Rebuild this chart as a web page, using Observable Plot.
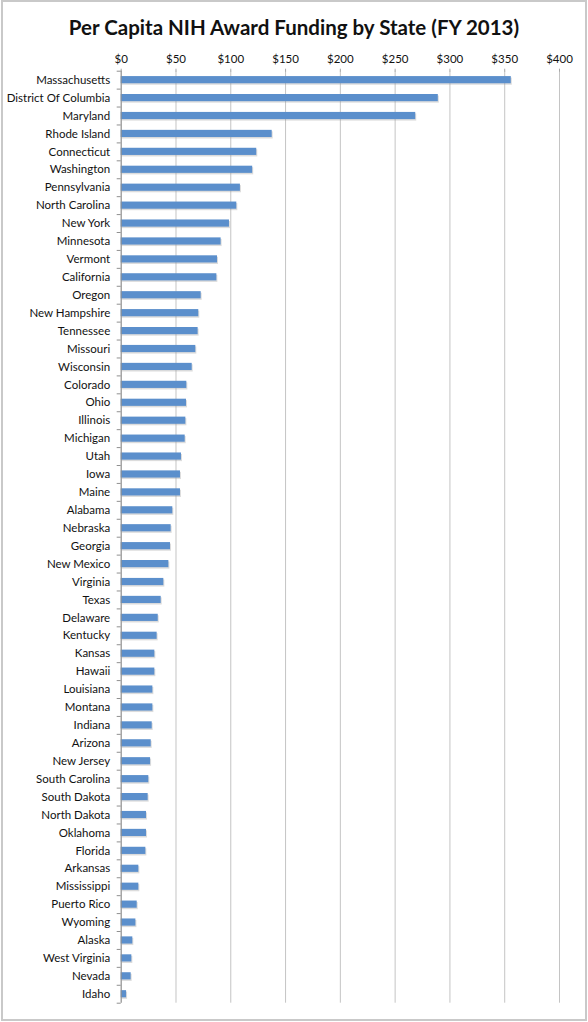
<!DOCTYPE html>
<html>
<head>
<meta charset="utf-8">
<script src="https://cdn.jsdelivr.net/npm/d3@7"></script>
<script src="https://cdn.jsdelivr.net/npm/@observablehq/plot@0.6"></script>
<style>
  html, body { margin: 0; padding: 0; background: #fff; }
  #wrap { position: relative; width: 588px; height: 1022px; overflow: hidden; font-family: Lato, "Open Sans", sans-serif; }
  #frame { position: absolute; left: 1px; top: 0px; border: 2px solid #c9c9c9; box-sizing: border-box; width: 586px; height: 1021px; pointer-events: none; }
  #title { position: absolute; left: 0; top: 15px; width: 588px; text-align: center; font-size: 20.5px; line-height: 24px; font-weight: 700; color: #111; }
  #chart { position: absolute; left: 0; top: 0; }
</style>
</head>
<body>
<div id="wrap">
  <div id="chart"></div>
  <div id="title">Per Capita NIH Award Funding by State (FY 2013)</div>
  <div id="frame"></div>
</div>
<script>
const states = [
  "Massachusetts", "District Of Columbia", "Maryland", "Rhode Island", "Connecticut",
  "Washington", "Pennsylvania", "North Carolina", "New York", "Minnesota",
  "Vermont", "California", "Oregon", "New Hampshire", "Tennessee",
  "Missouri", "Wisconsin", "Colorado", "Ohio", "Illinois",
  "Michigan", "Utah", "Iowa", "Maine", "Alabama",
  "Nebraska", "Georgia", "New Mexico", "Virginia", "Texas",
  "Delaware", "Kentucky", "Kansas", "Hawaii", "Louisiana",
  "Montana", "Indiana", "Arizona", "New Jersey", "South Carolina",
  "South Dakota", "North Dakota", "Oklahoma", "Florida", "Arkansas",
  "Mississippi", "Puerto Rico", "Wyoming", "Alaska", "West Virginia",
  "Nevada", "Idaho"
];
const funding = [
  356.0, 289.4, 268.8, 137.8, 123.7,
  120.0, 108.8, 105.5, 98.8, 91.2,
  87.9, 87.3, 73.0, 70.8, 70.2,
  68.1, 64.8, 59.9, 59.6, 59.0,
  58.4, 55.0, 54.1, 54.1, 47.1,
  45.6, 45.0, 43.5, 38.9, 36.5,
  33.8, 32.8, 30.7, 30.7, 28.9,
  28.9, 28.3, 27.4, 26.8, 25.2,
  24.6, 23.1, 23.1, 22.5, 16.1,
  16.1, 14.6, 13.4, 10.6, 9.7,
  9.1, 4.9
];
const xTicks = [0, 50, 100, 150, 200, 250, 300, 350, 400];

const data = states.map((s, i) => ({state: s, value: funding[i]}));

const marginTop = 70.7, marginBottom = 19.3;
const H = 1022;
const step = (H - marginTop - marginBottom) / states.length;

const chart = Plot.plot({
  width: 588,
  height: H,
  marginTop,
  marginBottom,
  marginLeft: 120.7,
  marginRight: 29,
  style: {fontFamily: "Lato, 'Open Sans', sans-serif", fontSize: "11.5px", color: "#111", background: "transparent"},
  x: {domain: [0, 400]},
  y: {domain: states, paddingInner: 0.6, paddingOuter: 0.3},
  marks: [
    Plot.gridX(xTicks, {stroke: "#c4c4c4", strokeOpacity: 1, strokeWidth: 1}),
    Plot.axisX({anchor: "top", ticks: xTicks, tickFormat: d => "$" + d, tickSize: 3, tickPadding: 5, stroke: "#a8a8a8", fill: "#111", label: null, fontSize: 11.5}),
    // Category separator ticks on the y axis
    Plot.axisY({ticks: states, tickSize: 4, tickFormat: null, dy: -step / 2, stroke: "#909090", label: null}),
    Plot.axisY({ticks: ["Idaho"], tickSize: 4, tickFormat: null, dy: step / 2, stroke: "#909090", label: null}),
    Plot.axisY({tickSize: 0, tickPadding: 11, label: null, fill: "#111", fontSize: 11.5}),
    // drop shadow
    Plot.barX(data, {x: "value", y: "state", fill: "#9a9a9a", fillOpacity: 0.35, dx: 1, dy: 1.5}),
    Plot.barX(data, {x: "value", y: "state", fill: "#5b8fcc"}),
    Plot.ruleX([0], {stroke: "#909090", strokeWidth: 1})
  ]
});
document.getElementById("chart").appendChild(chart);
</script>
</body>
</html>
